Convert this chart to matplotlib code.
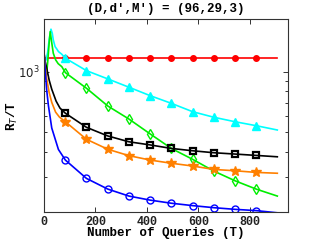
import matplotlib
matplotlib.use("Agg")
import matplotlib.pyplot as plt
import matplotlib.ticker as mticker

# x positions shared by all markers, and the last query count
T_MARK = [83, 165, 248, 330, 413, 495, 578, 660, 743, 825]
T_END = 907

# red (filled circles)
red_head_t = [1]
red_head_v = [1171]
red_mark_v = [1171, 1171, 1171, 1171, 1171, 1171, 1171, 1171, 1171, 1171]
red_end_v = 1171

# cyan (triangles)
cyan_head_t = [8, 14, 20, 27, 32, 36, 43, 50, 56, 69]
cyan_head_v = [1150, 1250, 1450, 1635, 1560, 1445, 1338, 1300, 1264, 1226]
cyan_mark_v = [1171, 1015, 923, 839, 761, 697, 633, 594, 564, 539]
cyan_end_v = 513

# green (diamonds)
green_head_t = [10, 15, 20, 24, 30, 36, 45, 55, 69]
green_head_v = [970, 1150, 1400, 1590, 1400, 1240, 1150, 1100, 1063]
green_mark_v = [992, 829, 676, 582, 490, 415, 366, 320, 286, 260]
green_end_v = 240

# black (squares)
black_head_t = [1, 5, 10, 20, 30, 47, 62]
black_head_v = [1210, 1120, 1050, 910, 820, 715, 660]
black_mark_v = [622, 529, 479, 448, 432, 415, 404, 395, 389, 383]
black_end_v = 377

# orange (stars)
orange_head_t = [1, 5, 10, 20, 30, 45, 60]
orange_head_v = [1210, 1050, 930, 790, 705, 630, 595]
orange_mark_v = [564, 461, 411, 382, 363, 350, 339, 326, 321, 315]
orange_end_v = 312

# blue (open circles)
blue_head_t = [1, 4, 10, 17, 30, 56]
blue_head_v = [1210, 1050, 820, 680, 525, 410]
blue_mark_v = [363, 294, 260, 240, 229, 221, 215, 210, 206, 203]
blue_end_v = 198

MONO = ["Liberation Mono", "DejaVu Sans Mono"]


def draw(ax, head_t, head_v, mark_v, end_v, color, marker, ms, filled, mew=1.0):
    t = head_t + T_MARK + [T_END]
    v = head_v + mark_v + [end_v]
    idx = list(range(len(head_t), len(head_t) + len(T_MARK)))
    ax.plot(t, v, color=color, lw=1.2, marker=marker, markersize=ms,
            markevery=idx, markeredgewidth=mew,
            markerfacecolor=color if filled else "none", markeredgecolor=color)


fig = plt.figure(figsize=(3.19, 2.40), dpi=100)
ax = fig.add_axes([0.138, 0.117, 0.766, 0.803])

draw(ax, red_head_t, red_head_v, red_mark_v, red_end_v, "#ff0000", "o", 4, True)
draw(ax, cyan_head_t, cyan_head_v, cyan_mark_v, cyan_end_v, "#00ffff", "^", 5.5, True)
draw(ax, green_head_t, green_head_v, green_mark_v, green_end_v, "#00ee00", "d", 5.5, False)
draw(ax, black_head_t, black_head_v, black_mark_v, black_end_v, "#000000", "s", 4.5, False, 1.6)
draw(ax, orange_head_t, orange_head_v, orange_mark_v, orange_end_v, "#ff8000", "*", 7, True)
draw(ax, blue_head_t, blue_head_v, blue_mark_v, blue_end_v, "#0000ff", "o", 5, False)

ax.set_yscale("log")
ax.set_xlim(0, 950)
ax.set_ylim(200, 1834)
ax.xaxis.set_major_locator(mticker.MultipleLocator(200))
ax.yaxis.set_major_locator(mticker.LogLocator(base=10))
ax.yaxis.set_minor_locator(mticker.LogLocator(base=10, subs=range(2, 10)))
ax.yaxis.set_minor_formatter(mticker.NullFormatter())
ax.tick_params(which="both", direction="in", top=True, right=True,
               colors="#333333", width=0.7)
ax.tick_params(which="major", length=3.5, pad=3)
ax.tick_params(which="minor", length=2)
for lab in ax.get_xticklabels():
    lab.set_family(MONO)
    lab.set_fontweight("bold")
    lab.set_fontsize(8.5)
    lab.set_color("#222222")
for lab in ax.get_yticklabels():
    lab.set_fontsize(8.5)
    lab.set_color("#222222")
for sp in ax.spines.values():
    sp.set_color("#333333")
    sp.set_linewidth(0.8)

ax.set_title("(D,d\u2032,M\u2032) = (96,29,3)", family=MONO, fontweight="bold",
             fontsize=9, pad=5)
ax.set_xlabel("Number of Queries (T)", family=MONO, fontweight="bold",
              fontsize=9, va="center")
ax.xaxis.set_label_coords(0.5, -0.109)
ax.set_ylabel("R$_T$/T", family=MONO, fontweight="bold", fontsize=9, va="center")
ax.yaxis.set_label_coords(-0.131, 0.5)

fig.savefig("out.png", dpi=100)
